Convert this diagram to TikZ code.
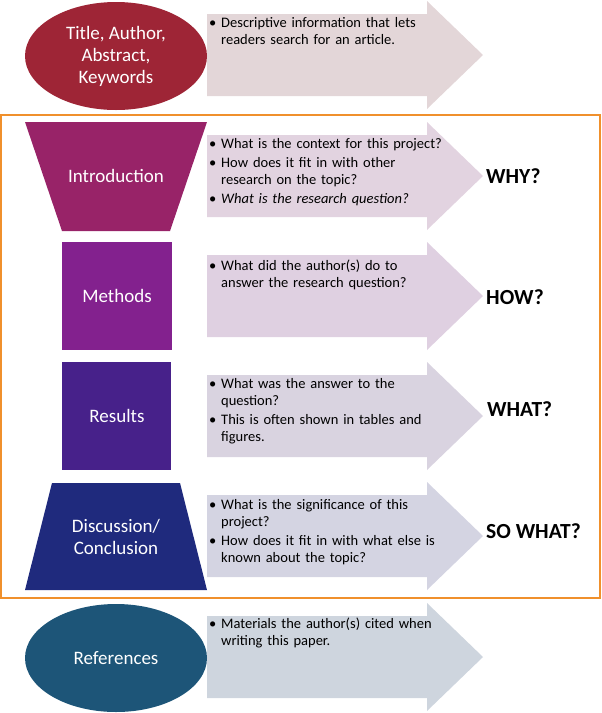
\documentclass[tikz,border=0pt]{standalone}
\usepackage{fontspec}
\setmainfont{Carlito}
\definecolor{cTitle}{HTML}{9E2536}
\definecolor{cIntro}{HTML}{982368}
\definecolor{cMeth}{HTML}{83218E}
\definecolor{cRes}{HTML}{47218A}
\definecolor{cDisc}{HTML}{1F2A7D}
\definecolor{cRef}{HTML}{1D5578}
\definecolor{aTitle}{HTML}{E3D6D8}
\definecolor{aIntro}{HTML}{E2D3E0}
\definecolor{aMeth}{HTML}{DFD0E1}
\definecolor{aRes}{HTML}{D9D3E0}
\definecolor{aDisc}{HTML}{D4D4E2}
\definecolor{aRef}{HTML}{CED5DE}
\definecolor{cFrame}{HTML}{F0902C}
\newcommand\bitem[1]{\par\hangindent=12pt\hangafter=1\noindent\makebox[12pt][l]{\textbullet}#1\par}
\newcommand\sarrow[2]{%
  \fill[#2] (207,#1-41) -- (427,#1-41) -- (427,#1-54) -- (483,#1) -- (427,#1+54) -- (427,#1+41) -- (207,#1+41) -- cycle;}
\begin{document}
\begin{tikzpicture}[x=1pt,y=-1pt,
  label/.style={text=white,font=\fontsize{19}{22}\selectfont,align=center},
  btext/.style={anchor=north west,text width=250pt,inner sep=0pt,align=left,
    font=\fontsize{14.5}{17.2}\selectfont\setlength{\parskip}{1.5pt}},
  qlabel/.style={anchor=west,font=\fontsize{21.5}{25}\selectfont\bfseries,inner sep=0pt}]
\useasboundingbox (0,0) rectangle (602,713);
% frame
\draw[cFrame,line width=2pt] (1,115) rectangle (600,598);
% arrows
\sarrow{55}{aTitle}
\sarrow{176}{aIntro}
\sarrow{296}{aMeth}
\sarrow{416}{aRes}
\sarrow{536}{aDisc}
\sarrow{657}{aRef}
% shapes
\fill[cTitle] (116,56) ellipse [x radius=91,y radius=54];
\fill[cIntro] (25,122) -- (207,122) -- (170,231) -- (62,231) -- cycle;
\fill[cMeth] (62,242) rectangle (172,350);
\fill[cRes] (62,362) rectangle (171,470);
\fill[cDisc] (52,483) -- (180,483) -- (207,590) -- (25,590) -- cycle;
\fill[cRef] (116,658) ellipse [x radius=91,y radius=54];
% labels
\node[label] (ltitle) at (116,56) {Title, Author,\\Abstract,\\Keywords};
\node[label] (lintro) at (116,176) {Introduction};
\node[label] (lmeth) at (117,296) {Methods};
\node[label] (lres) at (117,416) {Results};
\node[label] (ldisc) at (116,537) {Discussion/\\Conclusion};
\node[label] (lref) at (116,658) {References};
% bullet texts
\node[btext] (ttitle) at (209,8.5) {\bitem{Descriptive information that lets\newline readers search for an article.}};
\node[btext] (tintro) at (209,129.5) {\bitem{What is the context for this project?}\bitem{How does it fit in with other\newline research on the topic?}\bitem{\itshape What is the research question?}};
\node[btext] (tmeth) at (209,251.5) {\bitem{What did the author(s) do to\newline answer the research question?}};
\node[btext] (tres) at (209,369.5) {\bitem{What was the answer to the\newline question?}\bitem{This is often shown in tables and\newline figures.}};
\node[btext] (tdisc) at (209,490.5) {\bitem{What is the significance of this\newline project?}\bitem{How does it fit in with what else is\newline known about the topic?}};
\node[btext] (tref) at (209,609.5) {\bitem{Materials the author(s) cited when\newline writing this paper.}};
% question labels
\node[qlabel] (why) at (486,176) {WHY?};
\node[qlabel] (how) at (486,297) {HOW?};
\node[qlabel] (what) at (487,409) {WHAT?};
\node[qlabel] (sowhat) at (486,531) {SO WHAT?};
\end{tikzpicture}
\end{document}
